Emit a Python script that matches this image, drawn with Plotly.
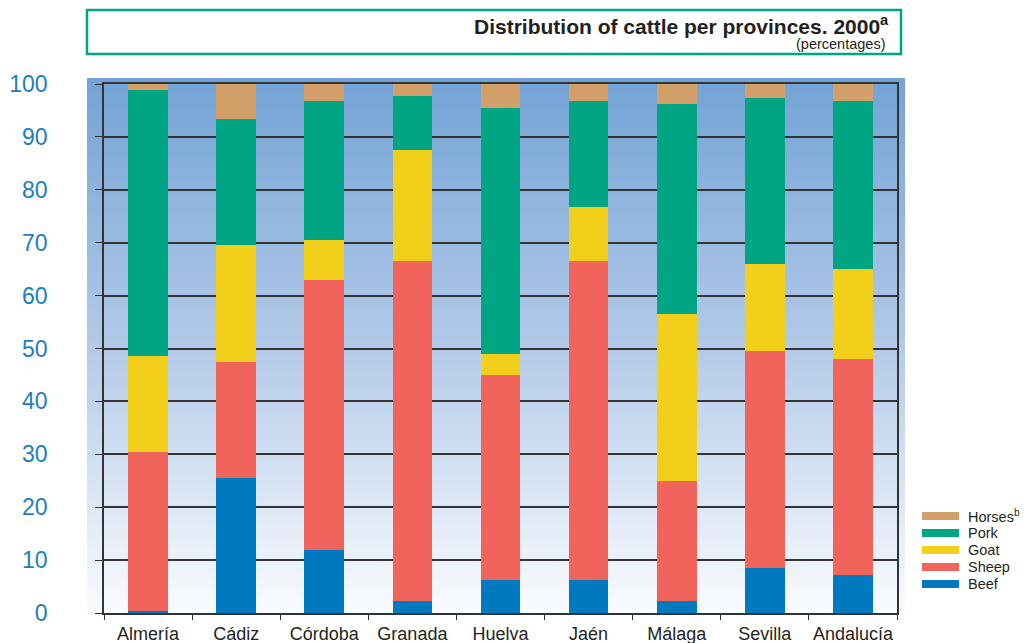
import base64
import plotly.graph_objects as go

provinces = ["Almería", "Cádiz", "Córdoba", "Granada", "Huelva", "Jaén", "Málaga", "Sevilla", "Andalucía"]
beef =   [0.3, 25.5, 12.0, 2.2, 6.2, 6.2, 2.2, 8.5, 7.2]
sheep =  [30.2, 21.9, 51.0, 64.3, 38.8, 60.3, 22.8, 41.0, 40.8]
goat =   [18.0, 22.2, 7.6, 21.1, 4.0, 10.2, 31.5, 16.5, 17.0]
pork =   [50.3, 23.8, 26.2, 10.2, 46.5, 20.1, 39.7, 31.3, 31.8]
horses = [1.2, 6.6, 3.2, 2.2, 4.5, 3.2, 3.8, 2.7, 3.2]

series = [
    ("Beef", beef, "#0079C1"),
    ("Sheep", sheep, "#F0645C"),
    ("Goat", goat, "#F2CF1A"),
    ("Pork", pork, "#00A584"),
    ("Horses<sup>b</sup>", horses, "#D4A06A"),
]
yticks = [0, 10, 20, 30, 40, 50, 60, 70, 80, 90, 100]

FONT = "Liberation Sans, Arial, sans-serif"
W, H = 1024, 643
# plot area in page coordinates
AX0, AX1, AY0, AY1 = 104, 897, 84, 613
L, R, T, B = AX0, W - AX1, AY0, H - AY1
pw, ph = W - L - R, H - T - B

def px(x):
    return (x - L) / pw

def py(y):
    return (H - B - y) / ph

fig = go.Figure()
for name, vals, col in series:
    fig.add_trace(go.Bar(x=provinces, y=vals, name=name, marker=dict(color=col, line=dict(width=0)),
                         showlegend=False))

# gradient background (image)
svg = ('<svg xmlns="http://www.w3.org/2000/svg" width="100" height="100" preserveAspectRatio="none">'
       '<defs><linearGradient id="g" x1="0" y1="0" x2="0" y2="1">'
       '<stop offset="0" stop-color="#72A3D5"/><stop offset="0.5" stop-color="#B3CAE8"/>'
       '<stop offset="1" stop-color="#FAFCFE"/></linearGradient></defs>'
       '<rect width="100" height="100" fill="url(#g)"/></svg>')
src = "data:image/svg+xml;base64," + base64.b64encode(svg.encode()).decode()
bx0, bx1, by0, by1 = 87, 905, 78, 615
fig.add_layout_image(dict(source=src, xref="paper", yref="paper", x=px(bx0), y=py(by0),
                          sizex=px(bx1) - px(bx0), sizey=py(by0) - py(by1),
                          sizing="stretch", xanchor="left", yanchor="top", layer="below"))

shapes = []
# title box
shapes.append(dict(type="rect", xref="paper", yref="paper", x0=px(87), x1=px(901), y0=py(54), y1=py(10),
                   line=dict(color="#00A584", width=2.5), fillcolor="rgba(0,0,0,0)"))
annotations = [
    dict(text="<b>Distribution of cattle per provinces. 2000<sup>a</sup></b>", xref="paper", yref="paper",
         x=px(891), y=py(25), xanchor="right", yanchor="middle", showarrow=False,
         font=dict(family=FONT, size=21, color="#231F20")),
    dict(text="(percentages)", xref="paper", yref="paper", x=px(887), y=py(44), xanchor="right",
         yanchor="middle", showarrow=False, font=dict(family=FONT, size=14.5, color="#231F20")),
]
# custom legend
leg_order = list(reversed(series))
for i, (name, vals, col) in enumerate(leg_order):
    yc = 516 + i * 17
    shapes.append(dict(type="rect", xref="paper", yref="paper", x0=px(922), x1=px(959),
                       y0=py(yc + 4), y1=py(yc - 4), line=dict(width=0), fillcolor=col))
    annotations.append(dict(text=name, xref="paper", yref="paper", x=px(966), y=py(yc), xanchor="left",
                            yanchor="middle", showarrow=False,
                            font=dict(family=FONT, size=14.5, color="#231F20")))

fig.update_layout(
    width=W, height=H, barmode="stack", bargap=0.55,
    margin=dict(l=L, r=R, t=T, b=B, pad=0, autoexpand=False),
    paper_bgcolor="white", plot_bgcolor="rgba(0,0,0,0)",
    shapes=shapes, annotations=annotations,
    font=dict(family=FONT),
)
fig.update_xaxes(showgrid=False, showline=True, linecolor="#333", linewidth=1.5, mirror=True,
                 ticks="outside", tickson="boundaries", ticklen=5, tickcolor="#333",
                 tickangle=0, automargin=False,
                 tickfont=dict(family=FONT, size=18, color="#231F20"), ticklabelstandoff=4)
fig.update_yaxes(range=[0, 100], tickvals=yticks, ticktext=[str(v) for v in yticks],
                 showgrid=True, gridcolor="#333", gridwidth=1.5, zeroline=False,
                 showline=True, linecolor="#333", linewidth=1.5, mirror=True,
                 ticks="outside", ticklen=7, tickcolor="#333", automargin=False,
                 tickfont=dict(family=FONT, size=23, color="#1A7FC1"), ticklabelstandoff=43)

fig.write_html("out.html", config={"displayModeBar": False},
               post_script="document.body.style.margin='0';document.body.style.overflow='hidden';")
